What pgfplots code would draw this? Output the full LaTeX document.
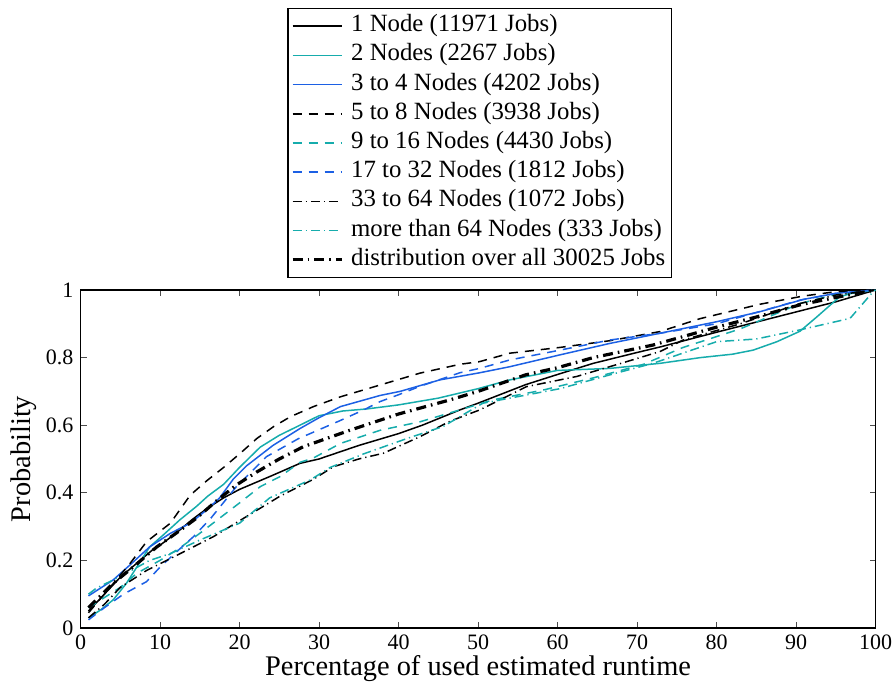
\documentclass[border=0pt]{standalone}
\usepackage{fontspec}
\setmainfont{Liberation Serif}
\usepackage{pgfplots}
\pgfplotsset{compat=1.18}
\definecolor{mteal}{RGB}{22,172,172}
\definecolor{mblue}{RGB}{28,96,228}
\tikzset{
  mdash/.style={dash pattern=on 4.5pt off 3.5pt},
  mdashdot/.style={dash pattern=on 4.5pt off 2pt on 0.6pt off 2pt},
}
\begin{document}
\begin{tikzpicture}
\begin{axis}[
  width=397.5pt, height=169pt, scale only axis,
  xmin=0, xmax=100, ymin=0, ymax=1,
  xtick={0,10,...,100}, ytick={0,0.2,...,1},
  axis line style={line width=0.7pt},
  major tick length=3pt,
  tick style={line width=0.5pt, black!70},
  tick align=inside,
  /pgf/number format/assume math mode=true,
  ticklabel style={font=\fontsize{11}{13}\selectfont},
  label style={font=\fontsize{14.2}{17}\selectfont},
  xlabel={Percentage of used estimated runtime},
  ylabel={Probability},
  xlabel style={yshift=4pt},
  ylabel style={yshift=-2pt},
  clip=false,
  legend cell align=left,
  legend image code/.code={\draw[#1] (0pt,0pt) -- (24.5pt,0pt);},
  legend style={at={(0.502,1)}, yshift=6pt, anchor=south, draw=black, line width=0.6pt,
    font=\fontsize{12.4}{15}\selectfont, inner xsep=1.5pt, inner ysep=1.5pt,
    nodes={inner sep=1.5pt, text height=8.6pt, text depth=3pt}, row sep=0pt,
    /tikz/every odd column/.append style={column sep=2.5pt}},
]
\addplot[black, line width=0.75pt] coordinates {(1,0.05) (3,0.10) (5,0.15) (7,0.19) (9,0.23) (10,0.245) (12,0.28) (14,0.32) (16,0.355) (18,0.385) (20,0.41) (22,0.43) (24,0.45) (27.6,0.487) (30,0.50) (35,0.54) (40,0.575) (43,0.60) (47.7,0.645) (50,0.665) (56,0.72) (60,0.75) (64.5,0.783) (70,0.815) (73,0.832) (80,0.875) (85,0.905) (90,0.935) (95,0.965) (100,1)};
\addlegendentry{1 Node (11971 Jobs)}
\addplot[mteal, line width=0.75pt] coordinates {(1,0.03) (2.5,0.053) (4.1,0.083) (5.8,0.133) (7.1,0.181) (8.7,0.24) (10.4,0.275) (12.5,0.32) (14.6,0.36) (16,0.39) (18,0.425) (20,0.475) (22.6,0.535) (25,0.57) (27.6,0.60) (30,0.628) (33,0.642) (36,0.648) (40,0.66) (45,0.68) (50,0.708) (54,0.734) (60,0.762) (66.6,0.768) (72.9,0.783) (78,0.80) (82,0.81) (84.6,0.822) (87.6,0.847) (90.5,0.878) (92.6,0.92) (95.5,0.98) (97,0.99) (100,1)};
\addlegendentry{2 Nodes (2267 Jobs)}
\addplot[mblue, line width=0.75pt] coordinates {(1,0.095) (4.1,0.142) (6.2,0.186) (8.7,0.24) (11.3,0.28) (13.8,0.31) (15.9,0.35) (17.5,0.385) (19.2,0.44) (20.9,0.48) (24.2,0.54) (27.6,0.59) (30,0.622) (32.7,0.655) (37.7,0.688) (40.2,0.70) (45.2,0.734) (50.2,0.755) (54,0.773) (60.3,0.808) (66.6,0.842) (72.9,0.872) (80,0.906) (85.5,0.936) (90.9,0.972) (95,0.99) (100,1)};
\addlegendentry{3 to 4 Nodes (4202 Jobs)}
\addplot[black, mdash, line width=0.75pt] coordinates {(1,0.045) (3,0.10) (6.2,0.19) (8.3,0.255) (11.3,0.31) (13.8,0.393) (15.9,0.436) (18,0.475) (20.1,0.517) (22.2,0.561) (24.3,0.596) (26.4,0.625) (29.3,0.655) (32.7,0.684) (37.7,0.719) (42.7,0.754) (47.7,0.78) (50.2,0.788) (54,0.813) (60.3,0.83) (66.6,0.85) (72.9,0.877) (77.9,0.915) (85.5,0.958) (90.9,0.982) (95,0.995) (100,1)};
\addlegendentry{5 to 8 Nodes (3938 Jobs)}
\addplot[mteal, mdash, line width=0.75pt] coordinates {(1,0.06) (3,0.09) (5,0.12) (7.1,0.162) (10,0.2) (12.5,0.237) (15,0.28) (18,0.334) (20,0.37) (22.6,0.418) (25.1,0.448) (27.6,0.49) (29.3,0.503) (32.7,0.546) (37.7,0.585) (42.7,0.61) (47.7,0.645) (51.9,0.675) (58.2,0.704) (64.5,0.74) (70.8,0.78) (75.8,0.83) (83,0.885) (90.5,0.96) (94.7,0.985) (100,1)};
\addlegendentry{9 to 16 Nodes (4430 Jobs)}
\addplot[mblue, mdash, line width=0.75pt] coordinates {(1,0.024) (3,0.06) (5.4,0.10) (8.3,0.137) (10,0.18) (12.3,0.23) (14.2,0.27) (16.4,0.325) (19.6,0.418) (23.4,0.507) (27.4,0.56) (32.5,0.612) (35.6,0.645) (37.7,0.67) (40,0.69) (42.7,0.715) (47.7,0.755) (50.2,0.768) (54,0.793) (60.3,0.822) (66.6,0.852) (72.9,0.872) (80,0.90) (90.5,0.97) (95,0.99) (100,1)};
\addlegendentry{17 to 32 Nodes (1812 Jobs)}
\addplot[black, mdashdot, line width=0.75pt] coordinates {(1,0.03) (3,0.07) (5,0.12) (8.3,0.17) (11.7,0.21) (16.7,0.27) (20.9,0.33) (25.1,0.39) (29.3,0.44) (31.8,0.477) (35,0.50) (38.1,0.517) (42.7,0.566) (46.5,0.612) (50.2,0.645) (56.1,0.714) (62.4,0.744) (68.7,0.788) (72.9,0.818) (75.8,0.852) (83,0.90) (90.5,0.96) (95,0.985) (100,1)};
\addlegendentry{33 to 64 Nodes (1072 Jobs)}
\addplot[mteal, mdashdot, line width=0.75pt] coordinates {(1,0.10) (2,0.118) (4.1,0.142) (6,0.165) (8.7,0.20) (11.3,0.22) (15,0.26) (18,0.29) (20,0.31) (23.8,0.385) (28.9,0.438) (31.4,0.475) (35.6,0.515) (41,0.56) (45.6,0.596) (47.7,0.625) (50.6,0.665) (54,0.68) (60.3,0.708) (66.6,0.749) (72,0.783) (80,0.847) (85,0.855) (90.5,0.882) (96.8,0.916) (99.7,0.995) (100,1)};
\addlegendentry{more than 64 Nodes (333 Jobs)}
\addplot[black, dash pattern=on 5pt off 2.5pt on 0.8pt off 2.5pt, line width=1.6pt] coordinates {(1,0.06) (4,0.13) (6.6,0.18) (9.6,0.24) (12,0.28) (14.6,0.325) (17,0.374) (19.6,0.423) (22.2,0.462) (25,0.50) (28,0.536) (31,0.561) (34,0.586) (40,0.633) (46.5,0.675) (50,0.70) (56,0.749) (60,0.77) (64.5,0.80) (72,0.837) (80,0.89) (85,0.92) (90.5,0.956) (95,0.978) (100,1)};
\addlegendentry{distribution over all 30025 Jobs}
\coordinate (bbsw) at (rel axis cs:-0.1013,-0.1834);
\coordinate (bbne) at (rel axis cs:1.0245,1.858);
\end{axis}
\pgfresetboundingbox
\path[use as bounding box] (bbsw) rectangle (bbne);
\end{tikzpicture}
\end{document}
